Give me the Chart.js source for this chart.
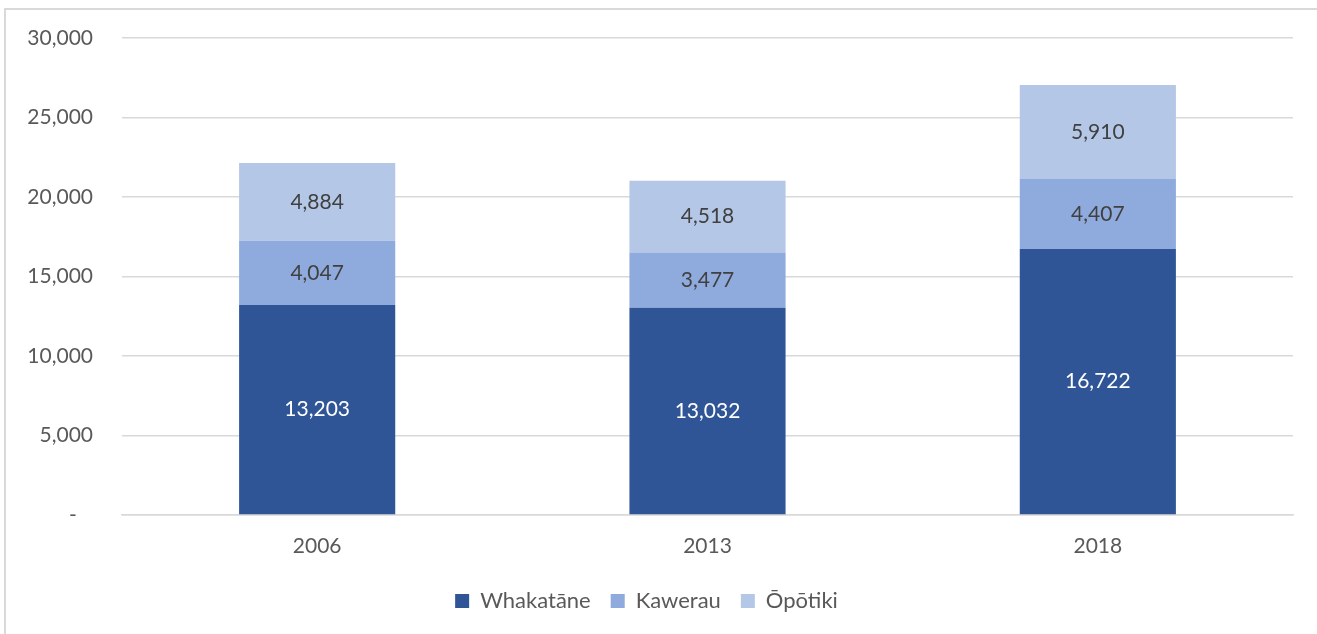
<!DOCTYPE html>
<html lang="en">
<head>
    <meta charset="utf-8"/>
    <title>Whakatāne, Kawerau, Ōpōtiki</title>
    <script src="https://cdn.jsdelivr.net/npm/chart.js"></script>
    <style>
        html, body { margin: 0; padding: 0; background: #fff; overflow: hidden; }
        #frame {
            position: absolute; left: 4px; top: 8px; width: 2000px; height: 2000px;
            border-left: 2px solid #d9d9d9; border-top: 2px solid #d9d9d9;
        }
        #wrap { position: absolute; left: 0; top: 0; width: 1317px; height: 634px; }
    </style>
</head>
<body>
    <div id="frame"></div>
    <div id="wrap"><canvas id="myChart" width="1317" height="634"></canvas></div>
    <script>
        // values
        var years = ['2006', '2013', '2018'];
        var whakatane = [13203, 13032, 16722];
        var kawerau = [4047, 3477, 4407];
        var opotiki = [4884, 4518, 5910];
        var yTicks = [0, 5000, 10000, 15000, 20000, 25000, 30000];

        var FONT = 'Lato, "Open Sans", "DejaVu Sans", sans-serif';

        // draws the numbers inside each bar segment
        var barLabels = {
            id: 'barLabels',
            afterDatasetsDraw: function (chart) {
                var ctx = chart.ctx;
                ctx.save();
                ctx.font = '21px ' + FONT;
                ctx.textAlign = 'center';
                ctx.textBaseline = 'middle';
                chart.data.datasets.forEach(function (ds, i) {
                    var meta = chart.getDatasetMeta(i);
                    ctx.fillStyle = i === 0 ? '#ffffff' : '#404040';
                    meta.data.forEach(function (bar, j) {
                        var p = bar.getProps(['x', 'y', 'base'], true);
                        ctx.fillText(ds.data[j].toLocaleString('en-US'), p.x, (p.y + p.base) / 2);
                    });
                });
                ctx.restore();
            }
        };

        var ctx = document.getElementById('myChart');
        var mychart = new Chart(ctx, {
            type: 'bar',
            data: {
                labels: years,
                datasets: [
                    { label: 'Whakatāne', data: whakatane, backgroundColor: '#2f5597' },
                    { label: 'Kawerau', data: kawerau, backgroundColor: '#8faadc' },
                    { label: 'Ōpōtiki', data: opotiki, backgroundColor: '#b4c7e7' }
                ]
            },
            options: {
                responsive: false,
                animation: false,
                datasets: {
                    bar: { barPercentage: 0.4, categoryPercentage: 1 }
                },
                layout: { padding: { left: 0, right: 24, top: 38, bottom: 12 } },
                plugins: {
                    tooltip: { enabled: false },
                    legend: {
                        position: 'bottom',
                        labels: {
                            boxWidth: 14, boxHeight: 14, padding: 20,
                            color: '#595959',
                            font: { family: FONT, size: 22 }
                        }
                    }
                },
                scales: {
                    x: {
                        stacked: true,
                        grid: { display: false, drawTicks: false },
                        border: { color: '#d9d9d9', width: 1.5 },
                        ticks: { color: '#595959', padding: 19, font: { family: FONT, size: 21 } },
                        afterFit: function (s) { s.height = 55; }
                    },
                    y: {
                        stacked: true,
                        min: 0, max: 30000,
                        border: { display: false },
                        grid: { color: '#d9d9d9', lineWidth: 1.5, drawTicks: false },
                        afterBuildTicks: function (s) {
                            s.ticks = yTicks.map(function (v) { return { value: v }; });
                        },
                        ticks: {
                            color: '#595959', padding: 29,
                            font: { family: FONT, size: 21 },
                            callback: function (v) { return v === 0 ? '-   ' : v.toLocaleString('en-US'); }
                        },
                        afterFit: function (s) {
                            s.width = 122;
                            // the big tick padding should not push the plot down
                            s.paddingTop = 0;
                            s.paddingBottom = 0;
                        }
                    }
                }
            },
            plugins: [barLabels]
        });
    </script>
</body>
</html>
